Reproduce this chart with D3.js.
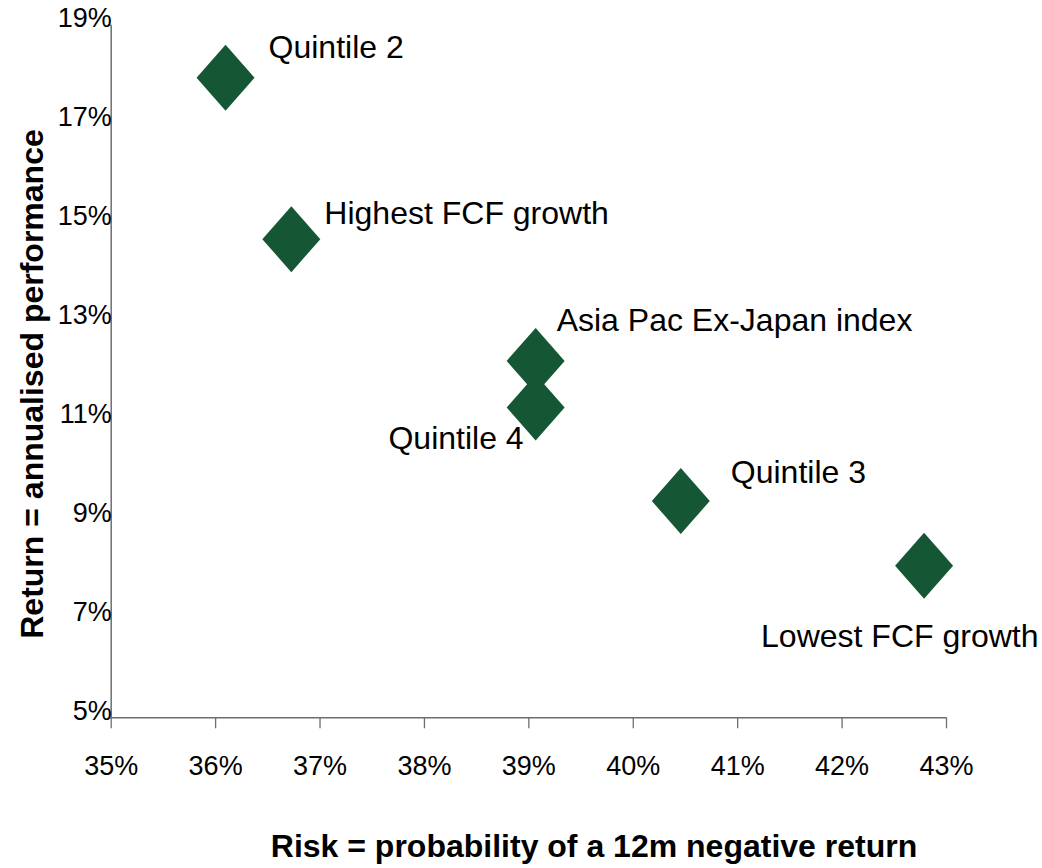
<!DOCTYPE html>
<html>
<head>
<meta charset="utf-8">
<script src="https://cdn.jsdelivr.net/npm/d3@7/dist/d3.min.js"></script>
<style>
  html, body { margin: 0; padding: 0; background: #ffffff; }
  svg { display: block; font-family: "Liberation Sans", Arial, sans-serif; }
</style>
</head>
<body>
<svg id="chart" width="1042" height="868"></svg>
<script>
// Portfolio groups and their risk / return figures (in %)
const groups = ["Quintile 2", "Highest FCF growth", "Asia Pac Ex-Japan index", "Quintile 4", "Quintile 3", "Lowest FCF growth"];
const risk   = [36.10, 36.73, 39.07, 39.07, 40.46, 42.79];
const ret    = [17.92, 14.66, 12.20, 11.26, 9.37, 8.06];

// Axis tick values
const xTicks = [35, 36, 37, 38, 39, 40, 41, 42, 43];
const yTicks = [5, 7, 9, 11, 13, 15, 17, 19];

// Label placement relative to each marker: [dx, dy, anchor]
const labelPlacement = [
  [43, -20, "start"],
  [33, -15, "start"],
  [21, -30, "start"],
  [-12, 42, "end"],
  [50, -18, "start"],
  [-163, 81, "start"]
];

const svg = d3.select("#chart");
const plotLeft = 110.7, plotRight = 946, plotTop = 24.3, plotBottom = 717.3;

const x = d3.scaleLinear().domain([35, 43]).range([plotLeft, plotRight]);
const y = d3.scaleLinear().domain([5, 19]).range([plotBottom, plotTop]);

const axisColor = "#6e6e6e";

// X axis with downward ticks
const xAxis = svg.append("g")
  .attr("transform", `translate(0,${plotBottom})`)
  .call(d3.axisBottom(x).tickValues(xTicks).tickSize(11).tickSizeOuter(0)
        .tickFormat(d => d + "%"));
xAxis.select(".domain").attr("stroke", axisColor).attr("stroke-width", 1.5);
xAxis.selectAll(".tick line").attr("stroke", axisColor).attr("stroke-width", 1.3);
xAxis.selectAll(".tick text")
  .attr("y", 58).attr("dy", 0)
  .attr("fill", "#000").style("font-size", "27px")
  .style("font-family", "'Liberation Sans', Arial, sans-serif");

// Y axis with short ticks and labels hugging the axis line
const yAxis = svg.append("g")
  .attr("transform", `translate(${plotLeft},0)`)
  .call(d3.axisLeft(y).tickValues(yTicks).tickSize(3).tickSizeOuter(0)
        .tickFormat(d => d + "%"));
yAxis.select(".domain").attr("stroke", axisColor).attr("stroke-width", 1.5);
yAxis.selectAll(".tick line").attr("stroke", axisColor).attr("stroke-width", 1.3);
yAxis.selectAll(".tick text")
  .attr("x", 1).attr("dy", "0.08em")
  .attr("fill", "#000").style("font-size", "27px")
  .style("font-family", "'Liberation Sans', Arial, sans-serif");
yAxis.raise();

// Diamond markers
const hw = 29, hh = 33;
const diamond = (cx, cy) => `M${cx},${cy - hh}L${cx + hw},${cy}L${cx},${cy + hh}L${cx - hw},${cy}Z`;

const pts = groups.map((g, i) => ({ name: g, risk: risk[i], ret: ret[i], place: labelPlacement[i] }));

svg.append("g").selectAll("path")
  .data(pts)
  .join("path")
  .attr("d", d => diamond(x(d.risk), y(d.ret)))
  .attr("fill", "#155634");

// Point labels
svg.append("g").selectAll("text")
  .data(pts)
  .join("text")
  .attr("x", d => x(d.risk) + d.place[0])
  .attr("y", d => y(d.ret) + d.place[1])
  .attr("text-anchor", d => d.place[2])
  .style("font-size", "32px")
  .attr("fill", "#000")
  .text(d => d.name);

// Axis titles
svg.append("text")
  .attr("x", 594).attr("y", 857)
  .attr("text-anchor", "middle")
  .style("font-size", "32px").style("font-weight", "bold")
  .text("Risk = probability of a 12m negative return");

svg.append("text")
  .attr("transform", "translate(43,384) rotate(-90)")
  .attr("text-anchor", "middle")
  .style("font-size", "32px").style("font-weight", "bold")
  .text("Return = annualised performance");
</script>
</body>
</html>
